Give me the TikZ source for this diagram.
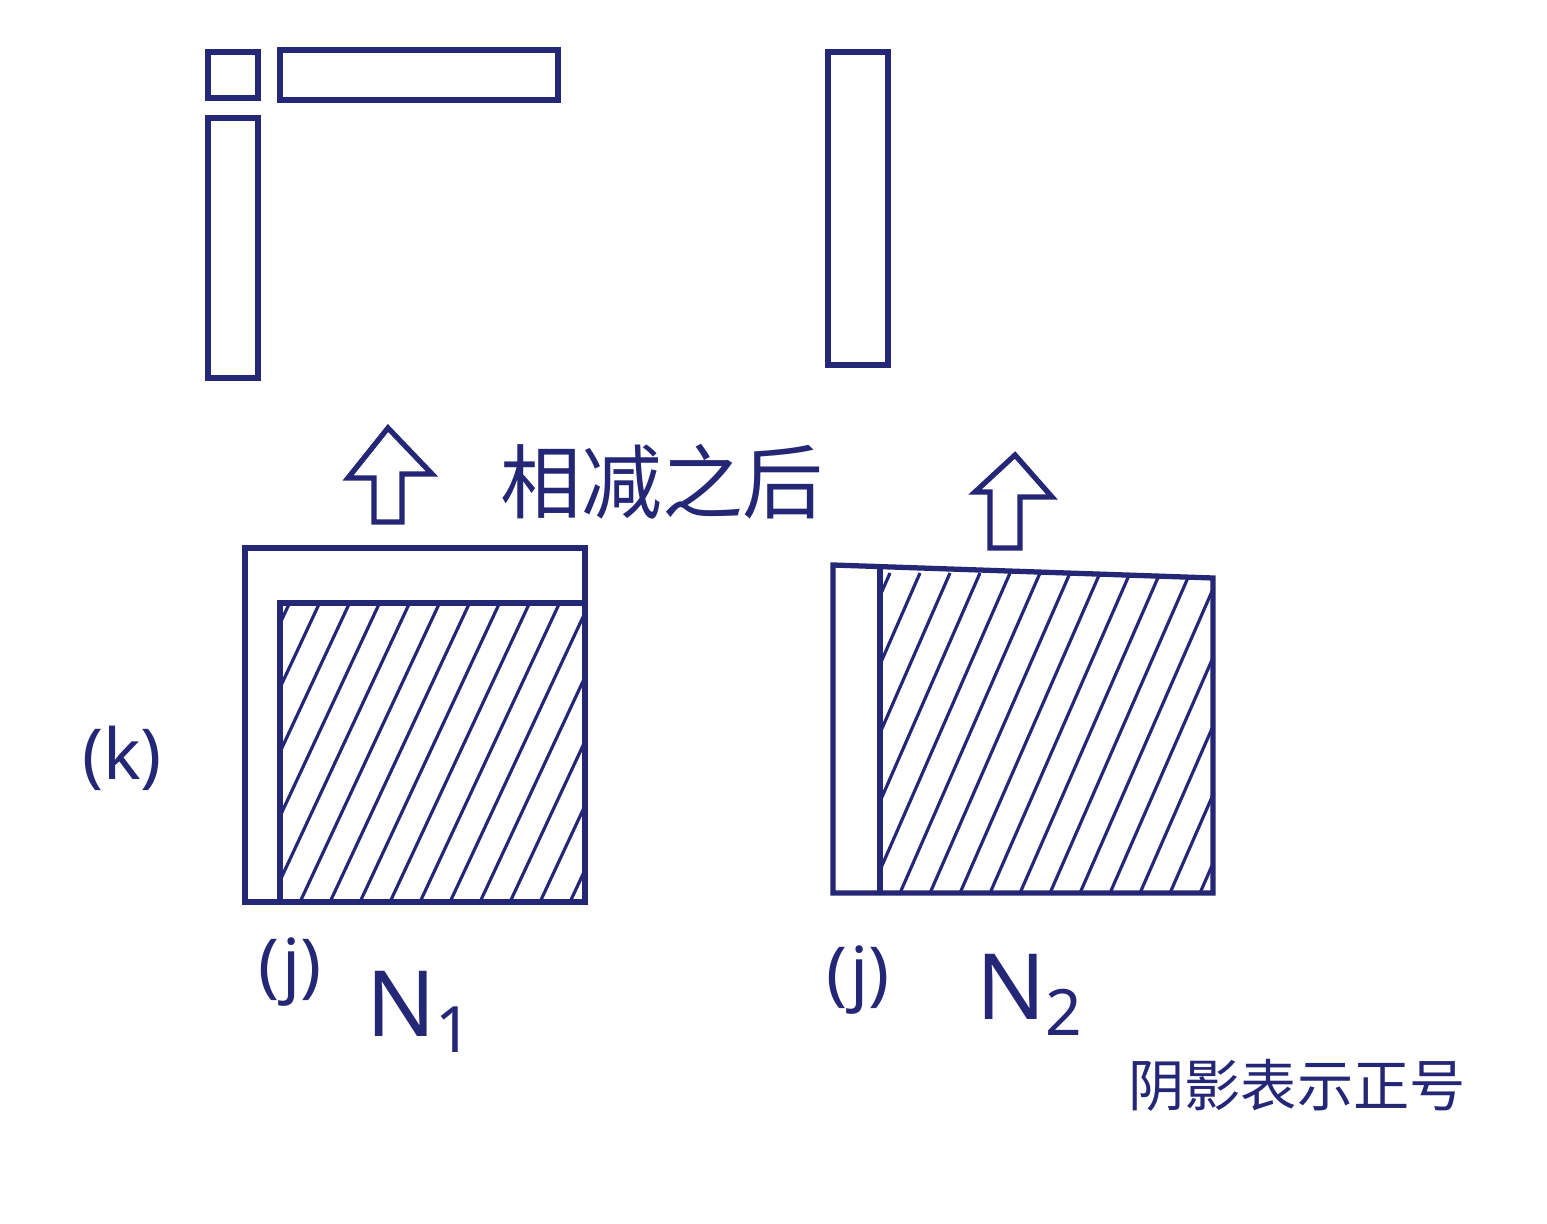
\documentclass[tikz,border=0pt]{standalone}
\usepackage{fontspec}
\setmainfont{Noto Sans}
\newfontfamily\cjk{Noto Sans CJK SC}
\definecolor{ink}{RGB}{36,38,118}
\tikzset{
  bar/.style={draw=ink, line width=1.5pt},
  hatch/.style={draw=ink, line width=0.9pt},
  hollowarrow/.style={draw=ink, line width=1.5pt, line join=miter},
  lbl/.style={text=ink, inner sep=0pt}
}

\begin{document}
\begin{tikzpicture}[x=0.1mm, y=-0.1mm]
	\useasboundingbox (0,0) rectangle (1547,1224);

	% the strips left after subtracting
	\draw[bar] (208,52) rectangle (258,98);
	\draw[bar] (280,50) rectangle (558,100);
	\draw[bar] (208,118) rectangle (258,378);
	\draw[bar] (828,52) rectangle (888,365);

	% hollow arrows
	\draw[hollowarrow] (374,522) -- (374,478) -- (348,478) -- (388,428)
		-- (432,474) -- (402,474) -- (402,522) -- cycle;
	\draw[hollowarrow] (990,548) -- (990,492) -- (975,492) -- (1015,455)
		-- (1052,497) -- (1020,497) -- (1020,548) -- cycle;
	\node[lbl, font=\cjk\fontsize{23}{27}\selectfont] (sub) at (662,482) {相减之后};

	% N1
	\begin{scope}
		\clip (280,603) rectangle (585,902);
		\foreach \x in {-150,-120,...,600}
			\draw[hatch] (\x,902) -- ++(140,-300);
	\end{scope}
	\draw[bar] (245,548) rectangle (585,902);
	\draw[bar] (280,902) -- (280,603) -- (585,603);

	% N2
	\begin{scope}
		\clip (880,567) -- (1213,578) -- (1213,893) -- (880,893) -- cycle;
		\foreach \x in {-150,-120,...,1250}
			\draw[hatch] (\x,893) -- ++(140,-320);
	\end{scope}
	\draw[bar] (833,565) -- (1213,578) -- (1213,893) -- (833,893) -- cycle;
	\draw[bar] (880,567) -- (880,893);

	\node[lbl, font=\fontsize{20}{24}\selectfont] (k) at (122,758) {(k)};
	\node[lbl, font=\fontsize{20}{24}\selectfont] (j1) at (290,972) {(j)};
	\node[lbl, font=\fontsize{26}{30}\selectfont] (n1) at (420,1012) {N\textsubscript{1}};
	\node[lbl, font=\fontsize{20}{24}\selectfont] (j2) at (858,980) {(j)};
	\node[lbl, font=\fontsize{26}{30}\selectfont] (n2) at (1030,995) {N\textsubscript{2}};
	\node[lbl, font=\cjk\fontsize{16}{20}\selectfont] (note) at (1297,1085) {阴影表示正号};
\end{tikzpicture}
\end{document}
